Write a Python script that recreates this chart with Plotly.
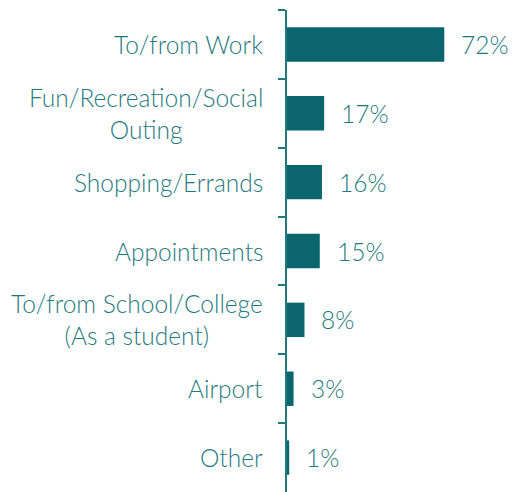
import plotly.graph_objects as go

categories = ["To/from Work", "Fun/Recreation/Social<br>Outing", "Shopping/Errands",
              "Appointments", "To/from School/College<br>(As a student)", "Airport", "Other"]
values = [72, 17, 16, 15, 8, 3, 1]
value_labels = [f"{v}%" for v in values]

bar_color = "#0A666C"
text_color = "#1F7A80"
font_family = "Lato, Open Sans, sans-serif"

fig = go.Figure(go.Bar(
    y=categories, x=values, orientation="h",
    marker=dict(color=bar_color, line=dict(width=0)),
    width=0.5,
))

for c, v, t in zip(categories, values, value_labels):
    fig.add_annotation(x=v, y=c, xref="x", yref="y", text=t, showarrow=False,
                       xanchor="left", xshift=15,
                       font=dict(family=font_family, size=24.5, color=text_color, weight=300))
    fig.add_annotation(x=0, y=c, xref="paper", yref="y", text=c, showarrow=False,
                       xanchor="right", align="center", xshift=-22,
                       font=dict(family=font_family, size=24.5, color=text_color, weight=300))

fig.update_layout(
    width=512, height=492,
    margin=dict(l=287, r=0, t=10, b=0, autoexpand=False),
    paper_bgcolor="white", plot_bgcolor="white",
    showlegend=False,
    xaxis=dict(range=[0, 103], visible=False, showgrid=False, zeroline=False),
    yaxis=dict(autorange="reversed", showticklabels=False, showgrid=False,
               showline=True, linecolor=text_color, linewidth=2,
               ticks="outside", tickson="boundaries", ticklen=7,
               tickcolor=text_color, tickwidth=2, zeroline=False),
)

fig.write_html("out.html", config={"displayModeBar": False},
               post_script="document.body.style.margin='0';document.body.style.overflow='hidden';")
